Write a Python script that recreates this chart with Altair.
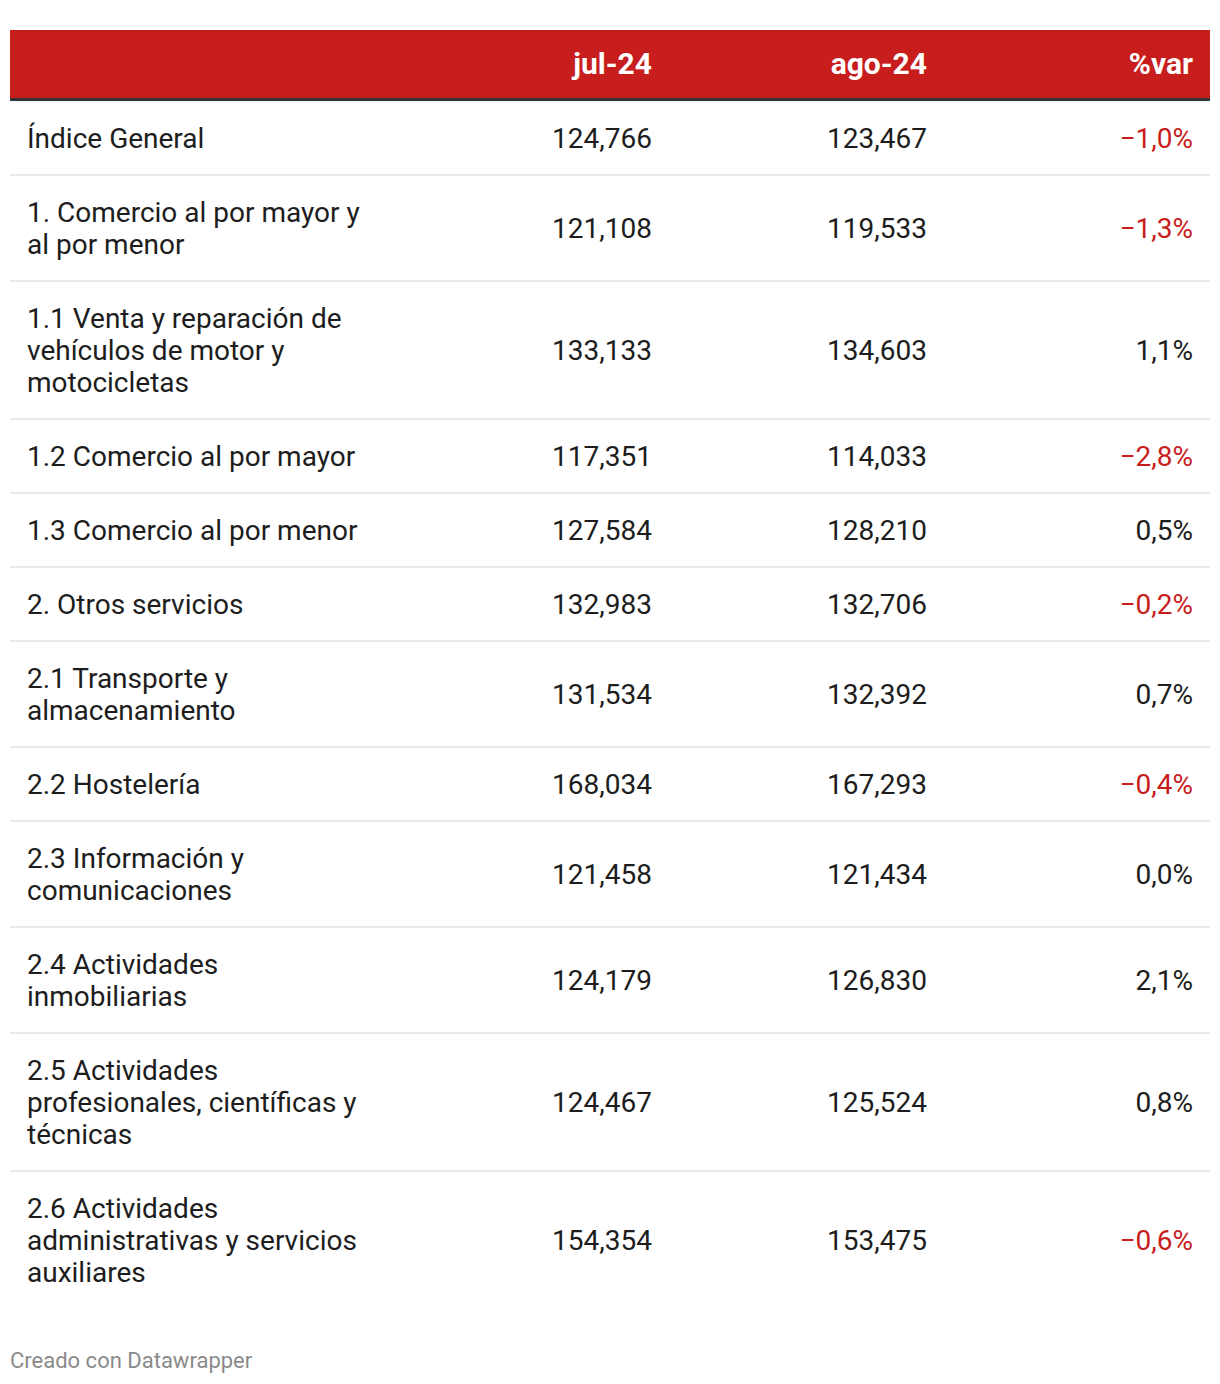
import altair as alt
import pandas as pd

# ---------------- data ----------------
columns = ["jul-24", "ago-24", "%var"]
labels = [
    ["Índice General"],
    ["1. Comercio al por mayor y", "al por menor"],
    ["1.1 Venta y reparación de", "vehículos de motor y", "motocicletas"],
    ["1.2 Comercio al por mayor"],
    ["1.3 Comercio al por menor"],
    ["2. Otros servicios"],
    ["2.1 Transporte y", "almacenamiento"],
    ["2.2 Hostelería"],
    ["2.3 Información y", "comunicaciones"],
    ["2.4 Actividades", "inmobiliarias"],
    ["2.5 Actividades", "profesionales, científicas y", "técnicas"],
    ["2.6 Actividades", "administrativas y servicios", "auxiliares"],
]
jul24 = [124.766, 121.108, 133.133, 117.351, 127.584, 132.983,
         131.534, 168.034, 121.458, 124.179, 124.467, 154.354]
ago24 = [123.467, 119.533, 134.603, 114.033, 128.210, 132.706,
         132.392, 167.293, 121.434, 126.830, 125.524, 153.475]
pct_var = [-1.0, -1.3, 1.1, -2.8, 0.5, -0.2, 0.7, -0.4, 0.0, 2.1, 0.8, -0.6]
footer = "Creado con Datawrapper"

# ---------------- layout / styles ----------------
W, H = 1204, 1376
OX, OY = 8, 8  # page margin
RED = "#c71e1d"
TXT = "#1d1d1d"
FONT = "Roboto"
FS = 28
HFS = 30
LINE_H = 32
ROW_PAD = 42
TABLE_L, TABLE_R = 10 - OX, 1210 - OX
HEAD_T, HEAD_B = 30 - OY, 98 - OY
DARK_B = 101 - OY
LABEL_X = 27 - OX
COL_X = [652 - OX, 927 - OX, 1193 - OX]
BASE_SHIFT = 10


def fmt_num(v):
    return f"{v:.3f}".replace(".", ",")


def fmt_pct(v):
    s = f"{abs(v):.1f}".replace(".", ",") + "%"
    return ("\u2212" + s) if v < 0 else s


rects = [
    dict(x=TABLE_L, x2=TABLE_R, y=HEAD_T, y2=HEAD_B, c=RED),
    dict(x=TABLE_L, x2=TABLE_R, y=HEAD_B, y2=DARK_B, c="#333333"),
]
label_rows, value_rows = [], []
top = DARK_B
n = len(labels)
for i, lines in enumerate(labels):
    h = ROW_PAD + LINE_H * len(lines)
    mid = top + h / 2
    first = mid - LINE_H * (len(lines) - 1) / 2
    for k, ln in enumerate(lines):
        label_rows.append(dict(x=LABEL_X, y=first + k * LINE_H + BASE_SHIFT, t=ln))
    vals = [fmt_num(jul24[i]), fmt_num(ago24[i]), fmt_pct(pct_var[i])]
    cols = [TXT, TXT, RED if pct_var[i] < 0 else TXT]
    for j in range(3):
        value_rows.append(dict(x=COL_X[j], y=mid + BASE_SHIFT, t=vals[j], c=cols[j]))
    top += h
    if i < n - 1:
        rects.append(dict(x=TABLE_L, x2=TABLE_R, y=top - 1, y2=top + 1, c="#e9e9e9"))

header_rows = [dict(x=COL_X[j], y=(HEAD_T + HEAD_B) / 2 + BASE_SHIFT, t=columns[j])
               for j in range(3)]
footer_rows = [dict(x=10 - OX, y=1368 - OY, t=footer)]

xs = alt.Scale(domain=[0, W], range=[0, W], nice=False, zero=False)
ys = alt.Scale(domain=[0, H], range=[0, H], nice=False, zero=False)

rect_layer = alt.Chart(pd.DataFrame(rects)).mark_rect().encode(
    x=alt.X("x:Q", scale=xs, axis=None),
    x2="x2:Q",
    y=alt.Y("y:Q", scale=ys, axis=None),
    y2="y2:Q",
    color=alt.Color("c:N", scale=None),
)

label_layer = alt.Chart(pd.DataFrame(label_rows)).mark_text(
    align="left", baseline="alphabetic", font=FONT, fontSize=FS, color=TXT
).encode(x=alt.X("x:Q", scale=xs, axis=None), y=alt.Y("y:Q", scale=ys, axis=None), text="t:N")

value_layer = alt.Chart(pd.DataFrame(value_rows)).mark_text(
    align="right", baseline="alphabetic", font=FONT, fontSize=FS
).encode(
    x=alt.X("x:Q", scale=xs, axis=None),
    y=alt.Y("y:Q", scale=ys, axis=None),
    text="t:N",
    color=alt.Color("c:N", scale=None),
)

header_layer = alt.Chart(pd.DataFrame(header_rows)).mark_text(
    align="right", baseline="alphabetic", font=FONT, fontSize=HFS,
    fontWeight="bold", color="#ffffff"
).encode(x=alt.X("x:Q", scale=xs, axis=None), y=alt.Y("y:Q", scale=ys, axis=None), text="t:N")

footer_layer = alt.Chart(pd.DataFrame(footer_rows)).mark_text(
    align="left", baseline="alphabetic", font=FONT, fontSize=22, color="#8a8a8a"
).encode(x=alt.X("x:Q", scale=xs, axis=None), y=alt.Y("y:Q", scale=ys, axis=None), text="t:N")

chart = alt.layer(rect_layer, label_layer, value_layer, header_layer, footer_layer).properties(
    width=W, height=H, padding=0, autosize="none", background="#ffffff"
).configure_view(stroke=None)

chart.save("out.html", embed_options={"renderer": "svg", "actions": False})
